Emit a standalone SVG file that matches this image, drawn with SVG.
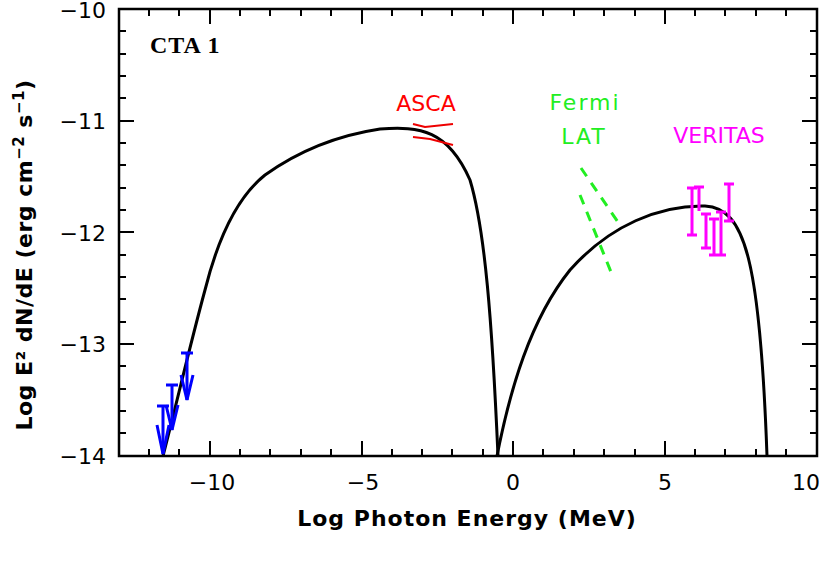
<svg xmlns="http://www.w3.org/2000/svg" width="831" height="563" viewBox="0 0 831 563">
<style>
.ax{stroke:#000;stroke-width:2.5;fill:none}
.tk{stroke:#000;stroke-width:2}
.t{font-family:"DejaVu Sans","Liberation Sans",sans-serif;font-size:22px;fill:#000}
.c{stroke:#000;stroke-width:3;fill:none}
.b{stroke:#00f;stroke-width:3;fill:none}
.m{stroke:#f0f;stroke-width:3;fill:none}
</style>
<rect class="ax" x="119" y="9" width="698" height="447" fill="#fff"/>
<g class="tk" id="xticks">
<path d="M149 456v-7M179 456v-7M210 456v-15M240 456v-7M270 456v-7M301 456v-7M331 456v-7M362 456v-15M392 456v-7M422 456v-7M452 456v-7M483 456v-7M513 456v-15M543 456v-7M574 456v-7M604 456v-7M635 456v-7M665 456v-15M695 456v-7M725 456v-7M756 456v-7M786 456v-7"/>
<path d="M149 9v7M179 9v7M210 9v15M240 9v7M270 9v7M301 9v7M331 9v7M362 9v15M392 9v7M422 9v7M452 9v7M483 9v7M513 9v15M543 9v7M574 9v7M604 9v7M635 9v7M665 9v15M695 9v7M725 9v7M756 9v7M786 9v7"/>
</g>
<g class="tk" id="yticks">
<path d="M119 31h7M119 54h7M119 76h7M119 98h7M119 121h15M119 143h7M119 165h7M119 188h7M119 210h7M119 232h15M119 255h7M119 277h7M119 299h7M119 322h7M119 344h15M119 366h7M119 389h7M119 411h7M119 433h7"/>
<path d="M817 31h-7M817 54h-7M817 76h-7M817 98h-7M817 121h-15M817 143h-7M817 165h-7M817 188h-7M817 210h-7M817 232h-15M817 255h-7M817 277h-7M817 299h-7M817 322h-7M817 344h-15M817 366h-7M817 389h-7M817 411h-7M817 433h-7"/>
</g>
<g class="t" text-anchor="middle" font-size="23">
<text x="212" y="490">−10</text>
<text x="363" y="490">−5</text>
<text x="513" y="490">0</text>
<text x="665" y="490">5</text>
<text x="806" y="490">10</text>
</g>
<g class="t" text-anchor="end" font-size="23">
<text x="106" y="18">−10</text>
<text x="106" y="129">−11</text>
<text x="106" y="241">−12</text>
<text x="106" y="352">−13</text>
<text x="106" y="464">−14</text>
</g>
<text class="t" x="467" y="526" text-anchor="middle" font-weight="bold" letter-spacing="1">Log Photon Energy (MeV)</text>
<text class="t" transform="translate(32,255) rotate(-90)" text-anchor="middle" font-weight="bold" letter-spacing="0.5">Log E² dN/dE (erg cm<tspan font-size="15" dy="-8">−2</tspan><tspan dy="8"> s</tspan><tspan font-size="15" dy="-8">−1</tspan><tspan dy="8">)</tspan></text>
<text x="150" y="53" font-family="Liberation Serif,serif" font-weight="bold" font-size="24" letter-spacing="1">CTA  1</text>
<path class="c" d="M163 456C175 410 190 345 205 290C220 230 240 195 265 175C300 150 340 135 380 129C420 126 448 130 470 180C485 230 492 320 498 456"/>
<path class="c" d="M497 456C510 390 530 320 570 270C610 225 660 205 705 206C745 208 760 260 767 456"/>
<g id="upperlimits" class="b">
<path d="M157 406h12M163 406v48M181 353h12M187 353v47M166 385h12M172 385v45"/>
<path d="M157 425L163 454L169 425M166 405L172 430L178 405M181 375L187 400L193 375"/>
</g>
<g id="asca" stroke="#e00" stroke-width="2" fill="none">
<path d="M413 124L425 127L453 124M413 137L430 139L453 145"/>
</g>
<g id="fermi" stroke="#2e2" stroke-width="3" fill="none" stroke-dasharray="10 8">
<path d="M581 168L620 225M580 195L611 272"/>
</g>
<g id="veritas" class="m">
<path d="M692 188v47M687 188h10M687 235h10M699 187v24M694 187h10M706 214v34M701 214h10M701 248h10M714 219v36M709 219h10M709 255h10M721 212v43M716 212h10M716 255h10M729 184v37M724 184h10M724 221h10"/>
</g>
<g class="t">
<text x="426" y="111" fill="#f00" text-anchor="middle">ASCA</text>
<text x="585" y="110" fill="#2e2" text-anchor="middle" letter-spacing="2">Fermi</text>
<text x="584" y="144" fill="#2e2" text-anchor="middle" letter-spacing="2">LAT</text>
<text x="719" y="143" fill="#f0f" text-anchor="middle">VERITAS</text>
</g>
</svg>
